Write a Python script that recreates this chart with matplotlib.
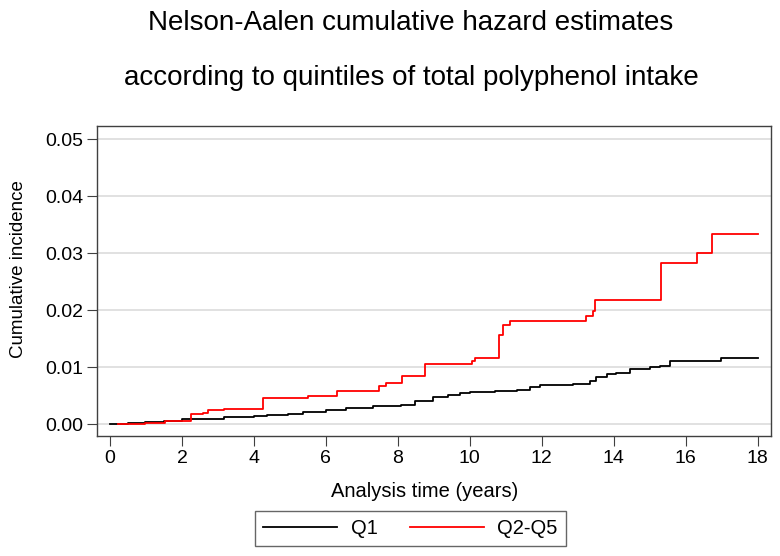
import matplotlib.pyplot as plt

plt.rcParams['font.family'] = ['Liberation Sans', 'DejaVu Sans']

# Q2-Q5 step function (time in years, cumulative hazard)
q25_time = [0.23, 0.97, 1.53, 2.24, 2.59, 2.73, 3.17, 4.24, 5.49, 6.30, 7.48, 7.67,
            8.11, 8.75, 10.05, 10.14, 10.81, 10.91, 11.11, 13.24, 13.41, 13.49,
            15.30, 16.30, 16.74, 18.0]
q25_haz = [0.0, 0.0001, 0.0006, 0.0017, 0.0020, 0.0025, 0.0027, 0.0045, 0.0050,
           0.0058, 0.0066, 0.0072, 0.0084, 0.0105, 0.0111, 0.0116, 0.0157, 0.0173,
           0.0180, 0.0190, 0.0199, 0.0218, 0.0283, 0.0301, 0.0333, 0.0333]

# Q1 step function
q1_time = [0.0, 0.5, 0.97, 1.5, 2.0, 2.5, 3.17, 3.6, 4.0, 4.35, 4.95, 5.37, 6.0,
           6.57, 7.31, 8.1, 8.47, 8.98, 9.4, 9.72, 10.0, 10.7, 11.3, 11.67, 11.94,
           12.4, 12.87, 13.33, 13.52, 13.8, 14.07, 14.44, 15.0, 15.28, 15.56, 16.99, 18.0]
q1_haz = [0.0, 0.0001, 0.0003, 0.0005, 0.0008, 0.0009, 0.0012, 0.0013, 0.0014,
          0.0016, 0.0018, 0.0022, 0.0024, 0.0028, 0.0032, 0.0034, 0.0040, 0.0047,
          0.0051, 0.0055, 0.0056, 0.0058, 0.0060, 0.0065, 0.0068, 0.0069, 0.0071,
          0.0076, 0.0083, 0.0088, 0.0090, 0.0097, 0.0100, 0.0102, 0.0111, 0.0116, 0.0116]

fig = plt.figure(figsize=(7.8, 5.56), dpi=100)
ax = fig.add_axes([0.1244, 0.2158, 0.8636, 0.5576])

ax.step(q1_time, q1_haz, where='post', color='black', lw=1.3, label='Q1')
ax.step(q25_time, q25_haz, where='post', color='red', lw=1.3, label='Q2-Q5')

ax.set_xlim(-0.36, 18.36)
ax.set_ylim(-0.0021, 0.0523)
ax.set_xticks(range(0, 19, 2))
ax.set_yticks([0, 0.01, 0.02, 0.03, 0.04, 0.05])
ax.set_yticklabels(['0.00', '0.01', '0.02', '0.03', '0.04', '0.05'])
ax.yaxis.grid(True, color='#dcdcdc', lw=1.2)
ax.set_axisbelow(True)
ax.tick_params(labelsize=14, length=7, pad=3, color='#404040')
for s in ax.spines.values():
    s.set_color('#404040')
    s.set_linewidth(1)

# axis titles placed in figure coords
fig.text(0.545, 0.106, 'Analysis time (years)', ha='center', va='baseline', fontsize=14.5)
fig.text(0.024, 0.516, 'Cumulative incidence', ha='center', va='center', rotation=90, fontsize=13.5)

fig.text(0.527, 0.946, 'Nelson-Aalen cumulative hazard estimates', ha='center', va='baseline', fontsize=20)
fig.text(0.527, 0.847, 'according to quintiles of total polyphenol intake', ha='center', va='baseline', fontsize=20)

leg = fig.legend(loc='center', bbox_to_anchor=(0.526, 0.050), ncol=2, fontsize=14.5,
                 frameon=True, fancybox=False, edgecolor='#404040', handlelength=3.7,
                 handletextpad=0.65, columnspacing=1.6, borderpad=0.4)
leg.get_frame().set_linewidth(1)

fig.savefig('out.png', dpi=100)
